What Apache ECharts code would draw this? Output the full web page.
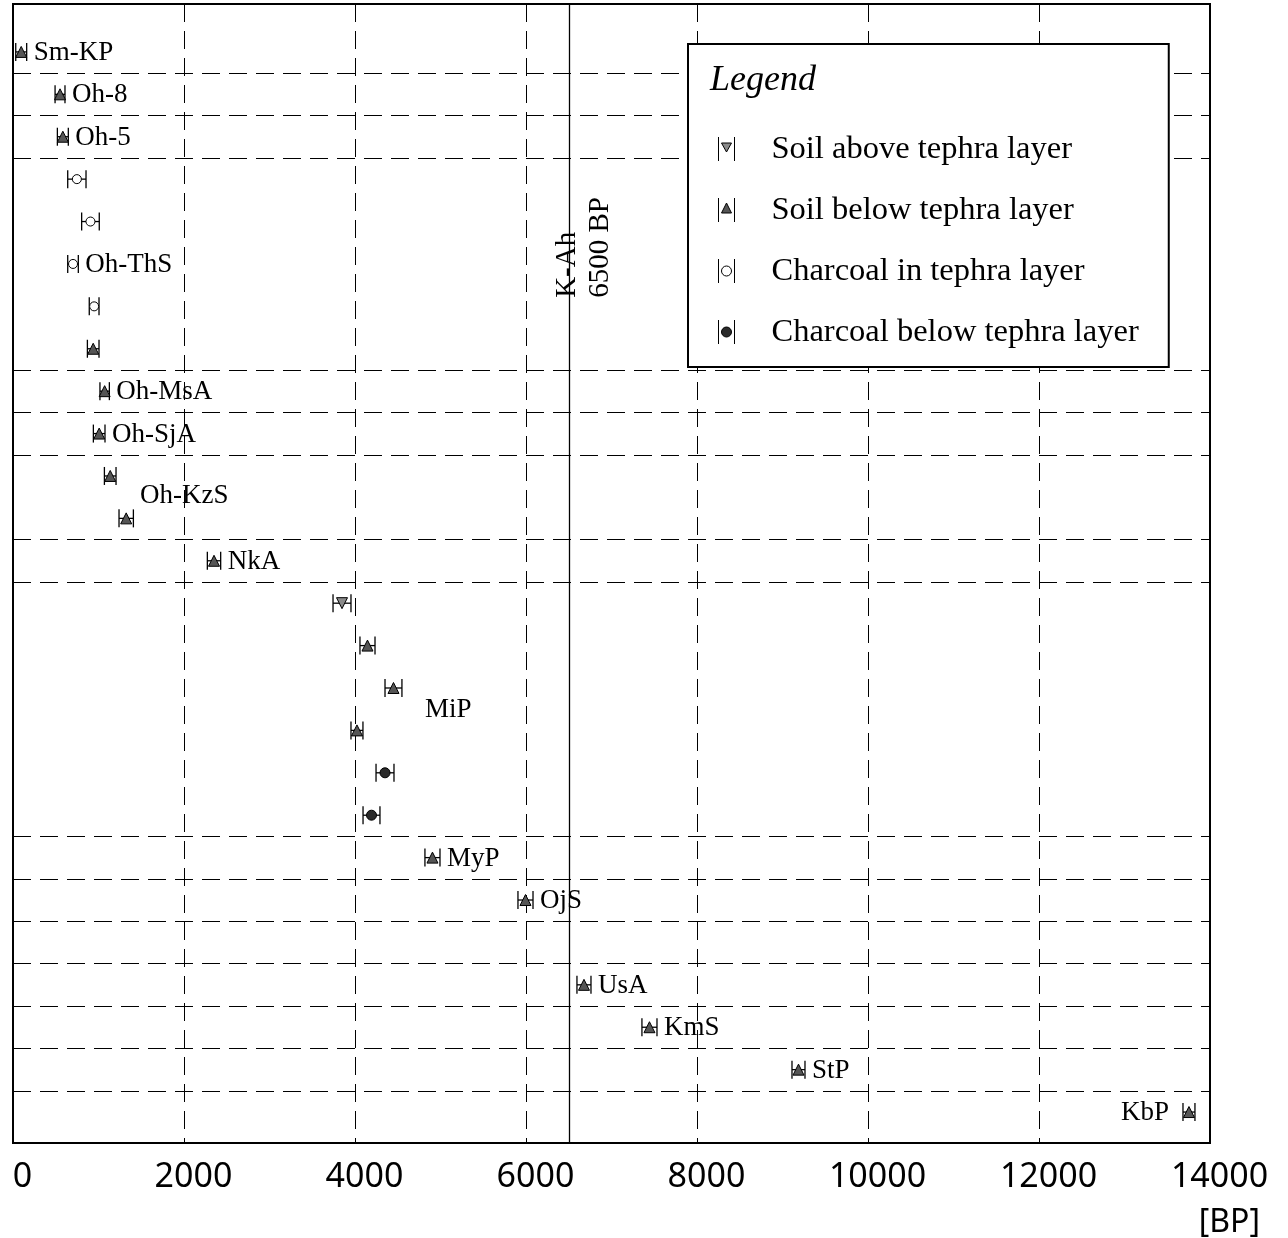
<!DOCTYPE html>
<html><head><meta charset="utf-8">
<script src="https://cdn.jsdelivr.net/npm/echarts@6/dist/echarts.min.js"></script>
<style>html,body{margin:0;padding:0;background:#fff}#c{width:1288px;height:1238px}</style>
</head><body><div id="c"></div>
<script>
// ---- data (row index = position from top) ----
const sampleLabels = ['Sm-KP','Oh-8','Oh-5','','','Oh-ThS','','','Oh-MsA','Oh-SjA','','','NkA','','','','','','','MyP','OjS','','UsA','KmS','StP','KbP'];
// 0 soil above, 1 soil below, 2 charcoal in, 3 charcoal below tephra layer
const sampleTypes = [1,1,1,2,2,2,2,1,1,1,1,1,1,0,1,1,1,3,3,1,1,null,1,1,1,1];
const ageBP   = [96,550,583,747,906,702,949,938,1072,1008,1137,1324,2351,3848,4146,4450,4023,4351,4193,4906,5994,null,6678,7444,9187,13754];
const errorBP = [64,58,64,107,103,62,57,68,55,68,68,84,78,105,88,99,70,105,99,88,88,null,82,88,76,70];
const typeNames = ['Soil above tephra layer','Soil below tephra layer','Charcoal in tephra layer','Charcoal below tephra layer'];
const groupSeparators = [0.5,1.5,2.5,7.5,8.5,9.5,11.5,12.5,18.5,19.5,20.5,21.5,22.5,23.5,24.5];
const groupLabels = ['Oh-KzS','MiP'];
const groupLabelAges = [1485,4819];
const groupLabelRows = [10.45,15.5];
const tephraLabel = 'K-Ah\n6500 BP';
const tephraAge = 6500;
const xMin = 0, xMax = 14000, xStep = 2000;
const xUnit = '[BP]';

// ---- styles ----
const SERIF = '"Liberation Serif","Times New Roman",serif';
const SANS = '"Noto Sans",sans-serif';
const fills = ['#8a8a8a','#555','#fff','#2a2a2a'];
const symbols = ['triangle','triangle','circle','circle'];
const symbolRot = [180,0,0,0];
const symbolSizes = [11,11,9,10];
const legendIcons = [
  'path://M0,0L0,24M16,0L16,24M3,6L13,6L8,15Z',
  'path://M0,0L0,24M16,0L16,24M8,5L13,15L3,15Z',
  'path://M0,0L0,24M16,0L16,24M3,12A5,5,0,1,1,13,12A5,5,0,1,1,3,12Z',
  'path://M0,0L0,24M16,0L16,24M3,12A5,5,0,1,1,13,12A5,5,0,1,1,3,12Z'
];

const barData = [];
ageBP.forEach((a,i)=>{ if(a!=null) barData.push([a,i,errorBP[i],sampleLabels[i]]); });

const scatterSeries = typeNames.map((name,t)=>({
  type:'scatter', name, z:4,
  symbol: symbols[t], symbolRotate: symbolRot[t], symbolSize: symbolSizes[t],
  itemStyle:{color:fills[t], borderColor:'#000', borderWidth:1, opacity:1},
  data: ageBP.map((a,i)=> (a!=null && sampleTypes[i]===t) ? [a,i] : null).filter(d=>d),
  silent:true, animation:false
}));

const chart = echarts.init(document.getElementById('c'), null, {renderer:'canvas'});
chart.setOption({
  backgroundColor:'#fff',
  animation:false,
  grid:{left:13,right:78,top:4,bottom:95,show:true,borderColor:'#000',borderWidth:2,backgroundColor:'transparent'},
  xAxis:{type:'value',min:xMin,max:xMax,interval:xStep,
    axisLine:{show:false},axisTick:{show:false},
    splitLine:{show:true,lineStyle:{color:'#000',width:1,type:[18,9]}},
    axisLabel:{fontFamily:SANS,fontSize:34,color:'#000',margin:17,padding:[0,0,0,19],formatter:v=>String(v)}
  },
  yAxis:{type:'value',inverse:true,min:-1.13,max:25.73,show:false,splitLine:{show:false}},
  legend:{
    orient:'vertical',left:688,top:44,padding:[87,30,17,30],z:20,
    backgroundColor:'#fff',borderColor:'#000',borderWidth:2,
    itemWidth:16,itemHeight:24,itemGap:25,selectedMode:false,
    textStyle:{fontFamily:SERIF,fontSize:32.5,color:'#000',lineHeight:36,padding:[0,0,0,32]},
    data: typeNames.map((n,t)=>({name:n,icon:legendIcons[t],itemStyle:{color:fills[t],borderColor:'#000',borderWidth:1}}))
  },
  graphic:[
    {type:'text',left:710,top:63,z:100,style:{text:'Legend',font:'italic 36px '+SERIF,fill:'#000'}},
    {type:'text',right:28,top:1207,z:100,style:{text:xUnit,font:'32px '+SANS,fill:'#000'}}
  ],
  series:[
    {type:'custom',name:'errorbars',z:3,silent:true,animation:false,
     data:barData,
     encode:{x:0,y:1},
     renderItem:(params,api)=>{
       const v=api.value(0), r=api.value(1), e=api.value(2);
       const lab = barData[params.dataIndex][3];
       const lo=api.coord([v-e,r]), hi=api.coord([v+e,r]);
       const h=9;
       const ls={stroke:'#000',lineWidth:1.3};
       const ch=[
         {type:'line',shape:{x1:lo[0],y1:lo[1],x2:hi[0],y2:hi[1]},style:ls},
         {type:'line',shape:{x1:lo[0],y1:lo[1]-h,x2:lo[0],y2:lo[1]+h},style:ls},
         {type:'line',shape:{x1:hi[0],y1:hi[1]-h,x2:hi[0],y2:hi[1]+h},style:ls}
       ];
       if(lab){
         const cs=params.coordSys;
         const left = hi[0]+90 > cs.x+cs.width;
         ch.push({type:'text',x:left?lo[0]-14:hi[0]+7,y:hi[1]+1,
           style:{text:lab,font:'27px '+SERIF,fill:'#000',align:left?'right':'left',verticalAlign:'middle'}});
       }
       return {type:'group',children:ch};
     },
     markLine:{silent:true,symbol:['none','none'],label:{show:false},animation:false,
       lineStyle:{color:'#000',width:1,type:[18,9]},
       data: groupSeparators.map(v=>({yAxis:v})).concat([{xAxis:tephraAge,lineStyle:{type:'solid',width:1.3,color:'#000'}}])
     }
    },
    {type:'custom',name:'groupLabels',z:3,silent:true,animation:false,
     data: groupLabels.map((g,i)=>[groupLabelAges[i],groupLabelRows[i],g]),
     renderItem:(params,api)=>{
       const p=api.coord([api.value(0),api.value(1)]);
       return {type:'text',x:p[0],y:p[1]+1,style:{text:groupLabels[params.dataIndex],font:'27px '+SERIF,fill:'#000',align:'left',verticalAlign:'middle'}};
     }
    },
    {type:'custom',name:'tephra',z:3,silent:true,animation:false,
     data:[[tephraAge,5.8]],
     renderItem:(params,api)=>{
       const p=api.coord([api.value(0),api.value(1)]);
       return {type:'text',x:p[0]-18,y:p[1],rotation:Math.PI/2,
         style:{text:tephraLabel,font:'29px '+SERIF,fill:'#000',align:'left',verticalAlign:'top',lineHeight:33}};
     }
    }
  ].concat(scatterSeries)
});
</script></body></html>
